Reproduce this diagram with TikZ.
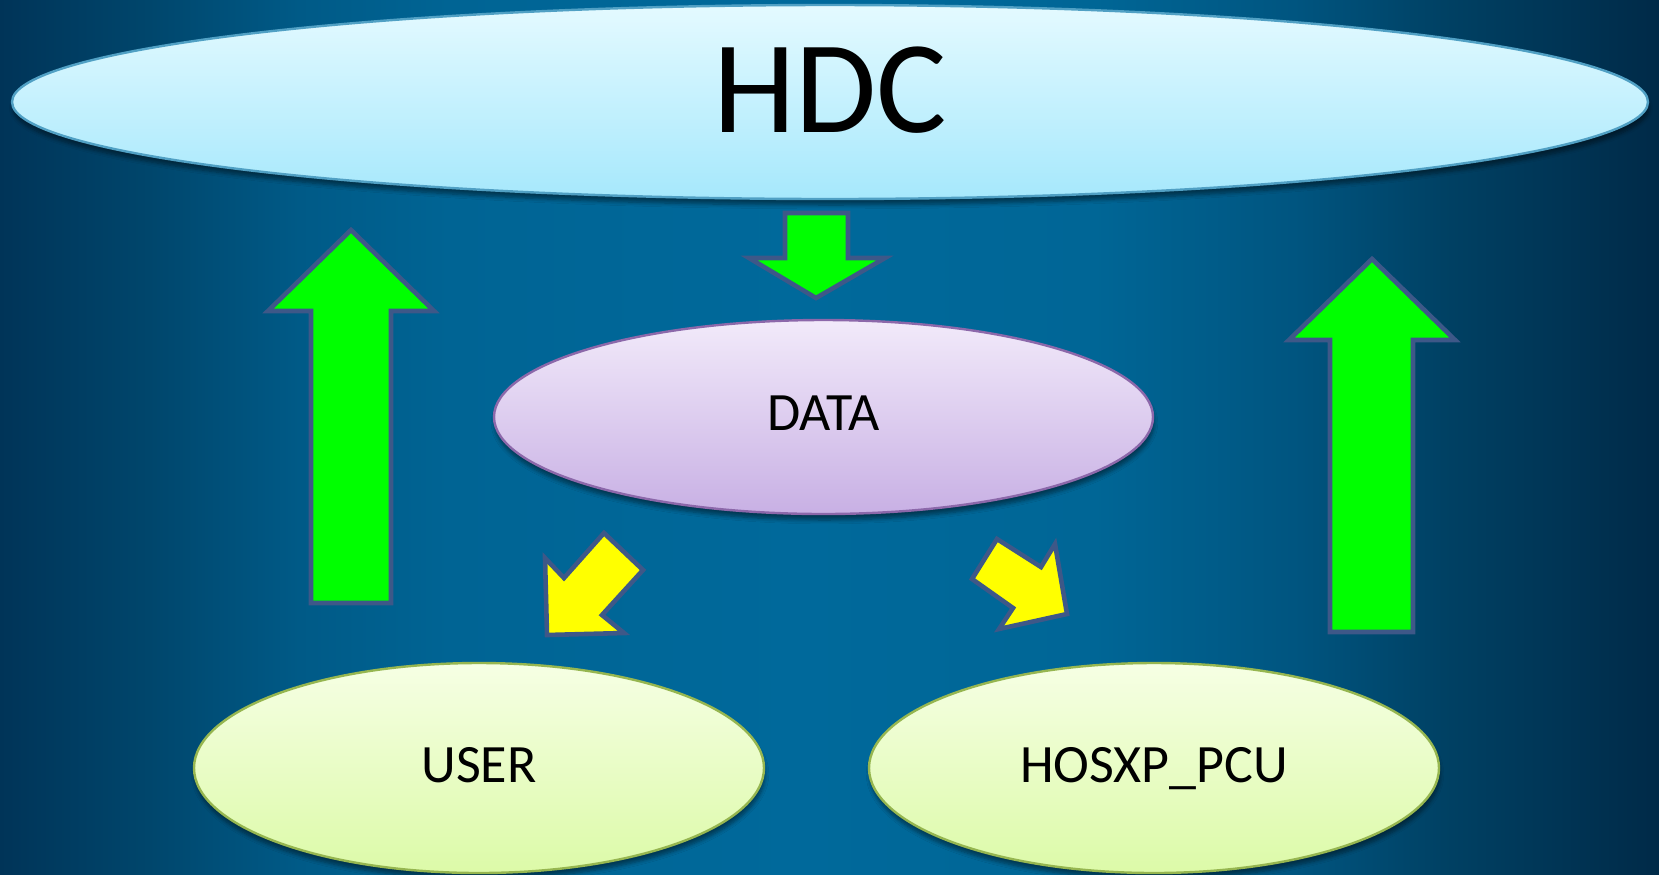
\documentclass[tikz,border=0pt]{standalone}
\usepackage{fontspec}
\setmainfont{Carlito}
\usepackage{tikz}
\usetikzlibrary{shapes.geometric,shadows.blur}
\pgfdeclarehorizontalshading{bgshade}{100bp}{rgb(0bp)=(0,0.204,0.345);
  rgb(25bp)=(0,0.204,0.345); rgb(29.5bp)=(0,0.275,0.424); rgb(34bp)=(0,0.353,0.529);
  rgb(38.5bp)=(0,0.392,0.580); rgb(49bp)=(0,0.412,0.608); rgb(58bp)=(0,0.4,0.588);
  rgb(64bp)=(0,0.333,0.502); rgb(68.5bp)=(0,0.255,0.392); rgb(75bp)=(0,0.165,0.282);
  rgb(100bp)=(0,0.165,0.282)}
\definecolor{arrowline}{RGB}{62,88,136}
\definecolor{arrowgreen}{RGB}{0,255,0}
\definecolor{arrowyellow}{RGB}{255,255,0}
\tikzset{
  oval/.style={ellipse,inner sep=0pt,line width=1.2pt,
    blur shadow={shadow blur steps=6,shadow xshift=0.5pt,shadow yshift=-3pt,shadow opacity=45}},
  hdcnode/.style={oval,draw={rgb,255:red,80;green,160;blue,196},
    top color={rgb,255:red,228;green,250;blue,255},bottom color={rgb,255:red,166;green,232;blue,252}},
  datanode/.style={oval,draw={rgb,255:red,140;green,104;blue,170},
    top color={rgb,255:red,242;green,234;blue,250},bottom color={rgb,255:red,200;green,176;blue,228}},
  usernode/.style={oval,draw={rgb,255:red,150;green,182;blue,80},
    top color={rgb,255:red,246;green,255;blue,228},bottom color={rgb,255:red,220;green,250;blue,168}},
  greenarrow/.style={draw=arrowline,fill=arrowgreen,line width=2.3pt,line join=miter},
  yellowarrow/.style={draw=arrowline,fill=arrowyellow,line width=2.3pt,line join=miter}
}
\begin{document}
\begin{tikzpicture}[x=0.5pt,y=-0.5pt]
  \useasboundingbox (0,0) rectangle (1659,874);
  \shade[shading=bgshade] (0,0) rectangle (1659,874);

  \node[hdcnode,minimum width=818pt,minimum height=97pt,text depth=12pt]
    (hdc) at (830,102) {\fontsize{66}{70}\selectfont HDC};
  \node[datanode,minimum width=329.5pt,minimum height=97pt,text depth=4pt]
    (data) at (823.5,417) {\fontsize{27}{30}\selectfont DATA};
  \node[usernode,minimum width=285pt,minimum height=105pt,text depth=3pt]
    (user) at (479,768) {\fontsize{27}{30}\selectfont USER};
  \node[usernode,minimum width=285pt,minimum height=105pt,text depth=3pt]
    (hosxp) at (1154,768) {\fontsize{27}{30}\selectfont HOSXP\_PCU};

  % green arrows
  \draw[greenarrow] (311,603) -- (311,311) -- (268,311) -- (351,230)
    -- (434,311) -- (391,311) -- (391,603) -- cycle;
  \draw[greenarrow] (1330,632) -- (1330,340) -- (1289,340) -- (1372,259)
    -- (1455,340) -- (1413,340) -- (1413,632) -- cycle;
  \draw[greenarrow] (785,213) -- (848,213) -- (848,258) -- (885,258)
    -- (816,298) -- (749,258) -- (785,258) -- cycle;

  % yellow arrows
  \draw[yellowarrow] (604,533) -- (643,570) -- (602,615) -- (624,633)
    -- (547,635) -- (545,558) -- (564,578) -- cycle;
  \draw[yellowarrow] (972,579) -- (997,539) -- (1041,567) -- (1055,544)
    -- (1067,614) -- (999,629) -- (1013,608) -- cycle;
\end{tikzpicture}
\end{document}
